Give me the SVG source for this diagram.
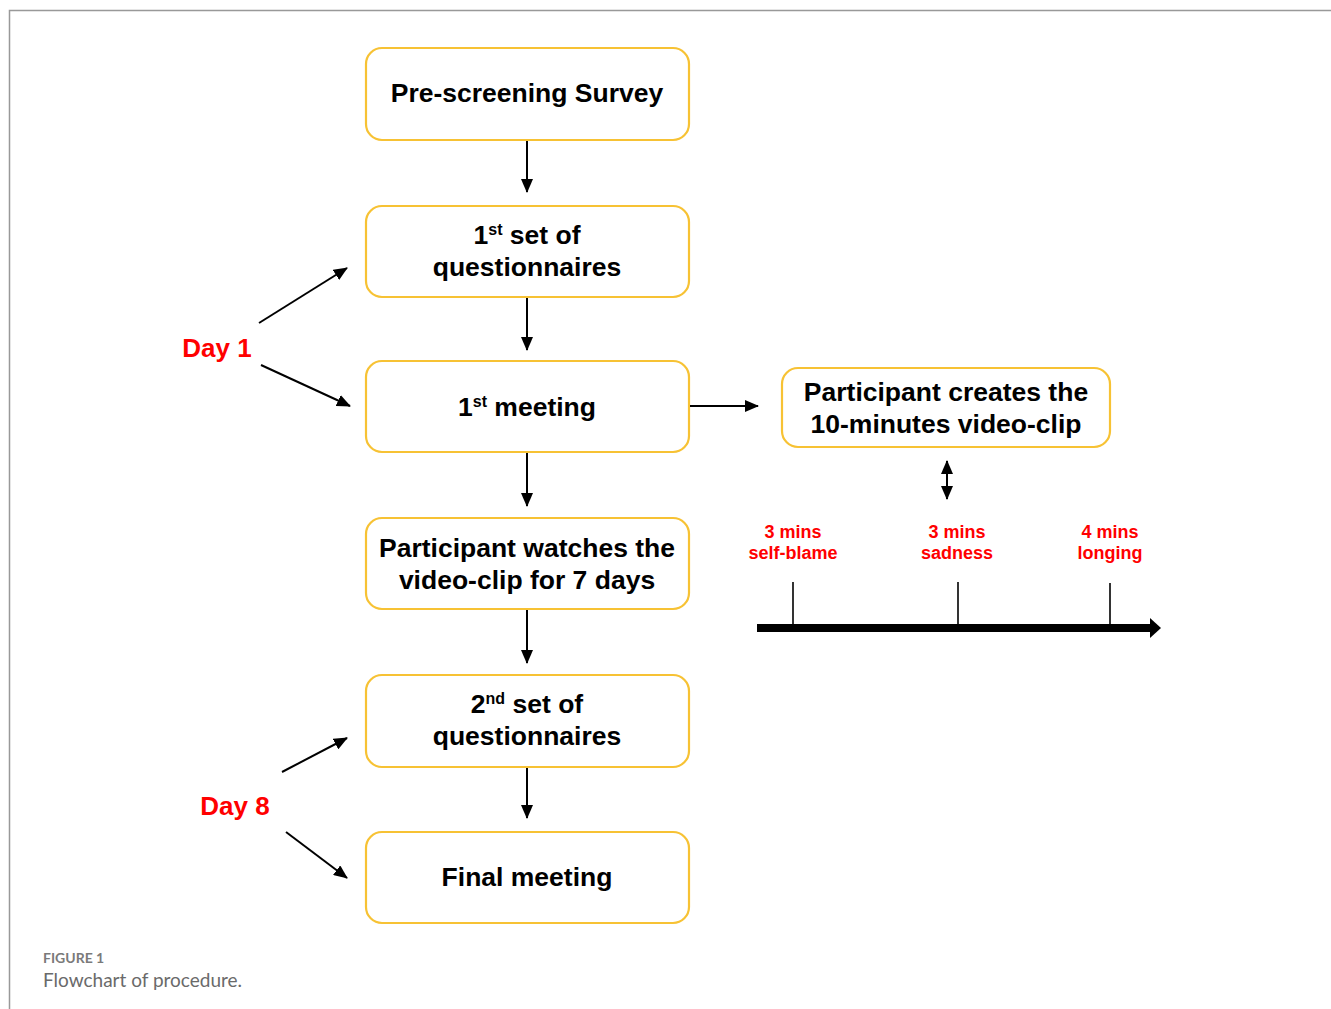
<svg xmlns="http://www.w3.org/2000/svg" width="1331" height="1009" viewBox="0 0 1331 1009">
<defs>
<style>
.box{fill:#fff;stroke:#F7C234;stroke-width:2.2}
.t{font-family:"Liberation Sans",Arial,sans-serif;font-weight:bold;font-size:26.5px;fill:#000;text-anchor:middle}
.red{font-family:"Liberation Sans",Arial,sans-serif;font-weight:bold;fill:#F00;text-anchor:middle}
.ln{stroke:#000;stroke-width:2;fill:none}
</style>
<marker id="ah" viewBox="0 0 14 12" refX="13" refY="6" markerWidth="14" markerHeight="12" markerUnits="userSpaceOnUse" orient="auto-start-reverse">
<path d="M0,0 L14,6 L0,12 z" fill="#000"/>
</marker>
</defs>
<rect width="1331" height="1009" fill="#fff"/>
<path d="M9.5,1009 V10.5 H1331" fill="none" stroke="#999" stroke-width="1.5"/>

<g id="n1"><rect class="box" x="366" y="48" width="323" height="92" rx="16"/><text class="t" x="527" y="102">Pre-screening Survey</text></g>
<g id="n2"><rect class="box" x="366" y="206" width="323" height="91" rx="16"/><text class="t" x="527" y="244">1<tspan font-size="16" dy="-9">st</tspan><tspan dy="9"> set of</tspan></text><text class="t" x="527" y="276">questionnaires</text></g>
<g id="n3"><rect class="box" x="366" y="361" width="323" height="91" rx="16"/><text class="t" x="527" y="416">1<tspan font-size="16" dy="-9">st</tspan><tspan dy="9"> meeting</tspan></text></g>
<g id="n4"><rect class="box" x="366" y="518" width="323" height="91" rx="16"/><text class="t" x="527" y="557">Participant watches the</text><text class="t" x="527" y="589">video-clip for 7 days</text></g>
<g id="n5"><rect class="box" x="366" y="675" width="323" height="92" rx="16"/><text class="t" x="527" y="713">2<tspan font-size="16" dy="-9">nd</tspan><tspan dy="9"> set of</tspan></text><text class="t" x="527" y="745">questionnaires</text></g>
<g id="n6"><rect class="box" x="366" y="832" width="323" height="91" rx="16"/><text class="t" x="527" y="886">Final meeting</text></g>
<g id="n7"><rect class="box" x="782" y="368" width="328" height="79" rx="16"/><text class="t" x="946" y="401">Participant creates the</text><text class="t" x="946" y="433">10-minutes video-clip</text></g>

<g id="day1"><text class="red" x="217" y="357" font-size="26">Day 1</text></g>
<g id="day8"><text class="red" x="235" y="815" font-size="26">Day 8</text></g>

<g id="timeline">
<text class="red" x="793" y="538" font-size="18">3 mins</text>
<text class="red" x="793" y="559" font-size="18">self-blame</text>
<text class="red" x="957" y="538" font-size="18">3 mins</text>
<text class="red" x="957" y="559" font-size="18">sadness</text>
<text class="red" x="1110" y="538" font-size="18">4 mins</text>
<text class="red" x="1110" y="559" font-size="18">longing</text>
<line x1="793" y1="582" x2="793" y2="628" stroke="#000" stroke-width="1.6"/>
<line x1="958" y1="582" x2="958" y2="628" stroke="#000" stroke-width="1.6"/>
<line x1="1110" y1="583" x2="1110" y2="628" stroke="#000" stroke-width="1.6"/>
<line x1="757" y1="628" x2="1152" y2="628" stroke="#000" stroke-width="8"/>
<path d="M1150,618 L1161,628 L1150,638 z" fill="#000"/>
</g>

<g id="connectors">
<line class="ln" x1="527" y1="141" x2="527" y2="192" marker-end="url(#ah)"/>
<line class="ln" x1="527" y1="298" x2="527" y2="350" marker-end="url(#ah)"/>
<line class="ln" x1="527" y1="453" x2="527" y2="506" marker-end="url(#ah)"/>
<line class="ln" x1="527" y1="610" x2="527" y2="663" marker-end="url(#ah)"/>
<line class="ln" x1="527" y1="768" x2="527" y2="818" marker-end="url(#ah)"/>
<line class="ln" x1="690" y1="406" x2="758" y2="406" marker-end="url(#ah)"/>
<line class="ln" x1="947" y1="461" x2="947" y2="499" marker-start="url(#ah)" marker-end="url(#ah)"/>
<line class="ln" x1="259" y1="323" x2="347" y2="268" marker-end="url(#ah)"/>
<line class="ln" x1="261" y1="365" x2="350" y2="406" marker-end="url(#ah)"/>
<line class="ln" x1="282" y1="772" x2="347" y2="738" marker-end="url(#ah)"/>
<line class="ln" x1="286" y1="832" x2="347" y2="878" marker-end="url(#ah)"/>
</g>

<g id="caption">
<text x="43" y="963" font-family="Lato,'Open Sans',sans-serif" font-weight="bold" font-size="14" fill="#7a7a7a">FIGURE 1</text>
<text x="43" y="987" font-family="Lato,'Open Sans',sans-serif" font-size="19" fill="#6a6a6a">Flowchart of procedure.</text>
</g>
</svg>
